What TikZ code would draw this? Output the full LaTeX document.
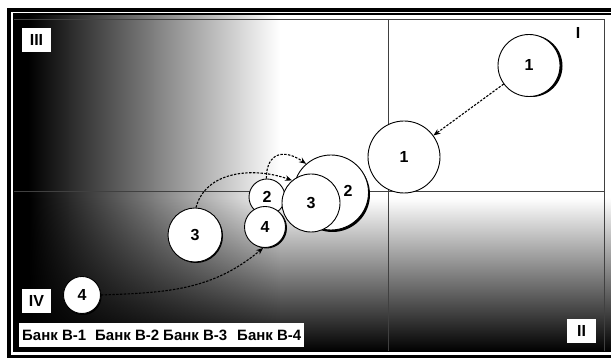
\documentclass[tikz,border=0pt]{standalone}
\usepackage{fontspec}
\setmainfont{Liberation Sans}
\usetikzlibrary{arrows.meta, fadings, shadows}

\tikzfading[name=fadenorth, bottom color=transparent!0, top color=transparent!100]

\begin{document}
\begin{tikzpicture}[x=1pt, y=1pt, >={Stealth[length=7pt, width=5.5pt]},
		digit/.style={font=\fontsize{16}{18}\selectfont\bfseries},
		bubble/.style={circle, draw, fill=white, line width=0.9pt, inner sep=0pt, minimum size=#1, digit},
		castshadow/.style 2 args={general shadow={fill=black, shadow xshift=#1, shadow yshift=#2}},
		quadlabel/.style={fill=white, minimum width=29pt, minimum height=24pt, inner sep=0pt, font=\fontsize{16}{18}\selectfont\bfseries},
		legendbox/.style={fill=white, inner xsep=3pt, inner ysep=0pt, minimum height=24pt, font=\fontsize{15}{18}\selectfont\bfseries},
		trend/.style={->, line width=1.1pt, dash pattern=on 2.4pt off 1.4pt}]
		\useasboundingbox (0,0) rectangle (611,358);
		\clip (0,0) rectangle (611,358);
		\fill[white] (0,0) rectangle (611,358);

		\fill[white] (13.5,6.5) rectangle (620,344);
		\fill[black] (13.5,6.5) rectangle (28,344);
		\shade[left color=black, middle color=black!42, right color=white] (28,6.5) rectangle (280,344);
		\fill[black, path fading=fadenorth] (13.5,6.5) rectangle (620,160);

		\draw[line width=4pt] (9,0.5) rectangle (618,348);
		\draw[line width=1.5pt] (13.5,6.5) rectangle (614,344);

		\draw[black!75, line width=0.7pt] (14,339) -- (604,339) -- (604,7);
		\draw[black!75, line width=0.7pt] (388,339) -- (388,7);
		\draw[black!75, line width=0.7pt] (14,167) -- (604,167);

		\node[bubble=75pt, castshadow={1.5pt}{-2pt}] (c2b) at (331,165.5) {};
		\node[digit] (n2b) at (348,167) {2};
		\node[bubble=36pt] (c2s) at (267,161) {2};
		\node[bubble=41pt, castshadow={1.5pt}{-1pt}] (c4s) at (265,131) {4};
		\node[bubble=58pt] (c3b) at (311,155) {3};
		\node[bubble=54pt, castshadow={1pt}{-1pt}] (c3a) at (195,123) {3};
		\node[bubble=37pt, castshadow={1pt}{-1.5pt}] (c4a) at (82,63) {4};
		\node[bubble=72pt] (c1b) at (404,201) {1};
		\node[bubble=62pt, castshadow={2.5pt}{-0.5pt}] (c1a) at (529,292.5) {1};

		\draw[trend] (c1a) -- (c1b);
		\draw[trend] (c2s.92) to[out=90, in=145, looseness=1.6] (c2b.131);
		\draw[trend] (c3a.88) to[out=75, in=160] (c3b.130);
		\draw[trend] (c4a.east) to[out=2, in=-140] (c4s.265);

		\node[quadlabel] (q3) at (36.5,318) {III};
		\node[quadlabel] (q1) at (578,325) {I};
		\node[quadlabel] (q4) at (36.5,56.5) {IV};
		\node[quadlabel] (q2) at (581.5,26.5) {II};
		\node[legendbox, anchor=west] (legend) at (19,23) {Банк В-1\hspace{9pt}Банк В-2\hspace{4pt}Банк В-3\hspace{10pt}Банк В-4};
	\end{tikzpicture}
\end{document}
